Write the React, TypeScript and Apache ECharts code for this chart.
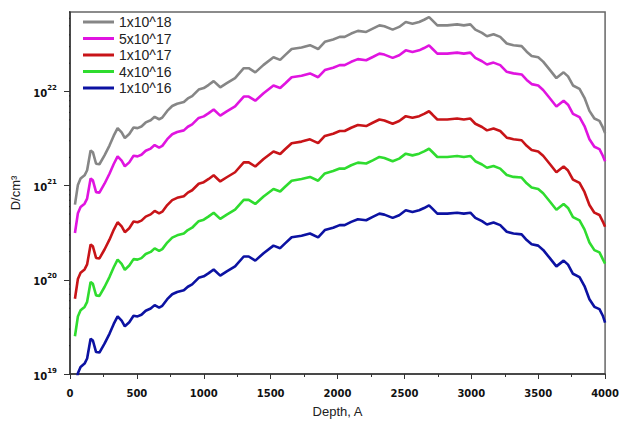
import React, { useEffect, useRef } from "react";
import * as echarts from "echarts";

// Depth positions (Angstrom) shared by all curves
const DEPTH = [37, 59, 79, 109, 128, 154, 171, 195, 220, 258, 295, 327, 356, 386, 410, 443, 475, 505, 534, 566, 603, 633, 666, 690, 727, 764, 801, 851, 881, 913, 962, 1000, 1037, 1074, 1123, 1172, 1234, 1299, 1336, 1385, 1447, 1521, 1571, 1608, 1657, 1731, 1794, 1855, 1905, 1967, 2016, 2053, 2102, 2152, 2214, 2263, 2313, 2350, 2412, 2461, 2510, 2560, 2610, 2647, 2684, 2709, 2746, 2820, 2894, 2944, 2993, 3030, 3080, 3117, 3166, 3216, 3265, 3315, 3376, 3414, 3451, 3500, 3537, 3587, 3636, 3690, 3723, 3760, 3809, 3846, 3883, 3920, 3958, 3983, 4000];

// D/cm^3 for dose 1x10^18, in units of 1e21
const DOSE_1E18 = [0.63, 1.02, 1.19, 1.29, 1.46, 2.37, 2.27, 1.71, 1.69, 2.10, 2.67, 3.40, 4.09, 3.69, 3.21, 3.54, 4.16, 4.09, 4.26, 4.70, 4.96, 5.39, 5.08, 5.30, 6.23, 7.03, 7.43, 7.74, 8.45, 8.95, 10.5, 10.9, 11.8, 12.9, 11.1, 12.3, 13.9, 17.7, 17.7, 16.0, 19.2, 23.1, 21.7, 24.4, 28.3, 29.4, 31.1, 28.3, 33.8, 35.7, 38.1, 38.1, 41.3, 44.1, 43.0, 46.6, 50.5, 49.3, 45.5, 48.6, 54.8, 52.6, 54.8, 57.9, 61.8, 57.0, 50.5, 50.5, 51.7, 50.5, 51.7, 45.5, 42.0, 38.7, 40.6, 38.1, 32.4, 31.1, 30.4, 26.5, 23.9, 23.1, 20.8, 17.0, 13.9, 16.0, 14.5, 11.6, 10.7, 8.59, 6.23, 5.17, 4.89, 4.16, 3.62];

// dose 5x10^17, in units of 1e20
const DOSE_5E17 = [3.15, 5.1, 5.95, 6.45, 7.3, 11.9, 11.4, 8.55, 8.45, 10.5, 13.4, 17.0, 20.5, 18.5, 16.1, 17.7, 20.8, 20.5, 21.3, 23.5, 24.8, 27.0, 25.4, 26.5, 31.2, 35.2, 37.2, 38.7, 42.3, 44.8, 52.5, 54.5, 59.0, 64.5, 55.5, 61.5, 69.5, 88.5, 88.5, 80.0, 96.0, 116, 109, 122, 142, 147, 156, 142, 169, 179, 191, 191, 207, 221, 215, 233, 253, 247, 228, 243, 274, 263, 274, 290, 309, 285, 253, 253, 259, 253, 259, 228, 210, 194, 203, 191, 162, 156, 152, 133, 120, 116, 104, 85.0, 69.5, 80.0, 72.5, 58.0, 53.5, 43.0, 31.2, 25.9, 24.5, 20.8, 18.2];

// dose 1x10^17, in units of 1e20
const DOSE_1E17 = [0.63, 1.02, 1.19, 1.29, 1.46, 2.37, 2.27, 1.71, 1.69, 2.10, 2.67, 3.40, 4.09, 3.69, 3.21, 3.54, 4.16, 4.09, 4.26, 4.70, 4.96, 5.39, 5.08, 5.30, 6.23, 7.03, 7.43, 7.74, 8.45, 8.95, 10.5, 10.9, 11.8, 12.9, 11.1, 12.3, 13.9, 17.7, 17.7, 16.0, 19.2, 23.1, 21.7, 24.4, 28.3, 29.4, 31.1, 28.3, 33.8, 35.7, 38.1, 38.1, 41.3, 44.1, 43.0, 46.6, 50.5, 49.3, 45.5, 48.6, 54.8, 52.6, 54.8, 57.9, 61.8, 57.0, 50.5, 50.5, 51.7, 50.5, 51.7, 45.5, 42.0, 38.7, 40.6, 38.1, 32.4, 31.1, 30.4, 26.5, 23.9, 23.1, 20.8, 17.0, 13.9, 16.0, 14.5, 11.6, 10.7, 8.59, 6.23, 5.17, 4.89, 4.16, 3.66];

// dose 4x10^16, in units of 1e19
const DOSE_4E16 = [2.52, 4.08, 4.76, 5.16, 5.84, 9.48, 9.08, 6.84, 6.76, 8.40, 10.7, 13.6, 16.4, 14.8, 12.8, 14.2, 16.6, 16.4, 17.0, 18.8, 19.8, 21.6, 20.3, 21.2, 24.9, 28.1, 29.7, 31.0, 33.8, 35.8, 42.0, 43.6, 47.2, 51.6, 44.4, 49.2, 55.6, 70.8, 70.8, 64.0, 76.8, 92.4, 86.8, 97.6, 113, 118, 124, 113, 135, 143, 152, 152, 165, 176, 172, 186, 202, 197, 182, 194, 219, 210, 219, 232, 247, 228, 202, 202, 207, 202, 207, 182, 168, 155, 162, 152, 130, 124, 122, 106, 95.6, 92.4, 83.2, 68.0, 55.6, 64.0, 58.0, 46.4, 42.8, 34.4, 24.9, 20.7, 19.6, 16.6, 14.9];

// dose 1x10^16, in units of 1e19
const DOSE_1E16 = [0.63, 1.02, 1.19, 1.29, 1.46, 2.37, 2.27, 1.71, 1.69, 2.10, 2.67, 3.40, 4.09, 3.69, 3.21, 3.54, 4.16, 4.09, 4.26, 4.70, 4.96, 5.39, 5.08, 5.30, 6.23, 7.03, 7.43, 7.74, 8.45, 8.95, 10.5, 10.9, 11.8, 12.9, 11.1, 12.3, 13.9, 17.7, 17.7, 16.0, 19.2, 23.1, 21.7, 24.4, 28.3, 29.4, 31.1, 28.3, 33.8, 35.7, 38.1, 38.1, 41.3, 44.1, 43.0, 46.6, 50.5, 49.3, 45.5, 48.6, 54.8, 52.6, 54.8, 57.9, 61.8, 57.0, 50.5, 50.5, 51.7, 50.5, 51.7, 45.5, 42.0, 38.7, 40.6, 38.1, 32.4, 31.1, 30.4, 26.5, 23.9, 23.1, 20.8, 17.0, 13.9, 16.0, 14.5, 11.6, 10.7, 8.59, 6.23, 5.17, 4.89, 4.16, 3.51];

const SERIES_NAMES = ["1x10^18", "5x10^17", "1x10^17", "4x10^16", "1x10^16"];
const SERIES_VALUES = [DOSE_1E18, DOSE_5E17, DOSE_1E17, DOSE_4E16, DOSE_1E16];
const SERIES_UNITS = [1e21, 1e20, 1e20, 1e19, 1e19];
const SERIES_COLORS = ["#868686", "#e014e0", "#c81418", "#2fdc2f", "#0c12a2"];

const X_TICKS_INTERVAL = 500;
const Y_MINOR_MANTISSAS = [2, 3, 4, 5, 6, 7, 8, 9];
const Y_DECADES = [1e19, 1e20, 1e21, 1e22];
const Y_MIN = 1e19;
const Y_MAX = 7e22;
// minor tick length expressed in depth units (drawn just left of the y axis)
const MINOR_TICK_DEPTH = 34;

export default function App() {
  const ref = useRef<HTMLDivElement>(null);

  useEffect(() => {
    if (!ref.current) return;
    const chart = echarts.init(ref.current, null, { renderer: "svg" });

    const minorValues: number[] = [];
    Y_DECADES.forEach((d) => {
      Y_MINOR_MANTISSAS.forEach((m) => {
        const v = m * d;
        if (v <= Y_MAX * 1.0001) minorValues.push(v);
      });
    });

    const lineSeries: any[] = SERIES_NAMES.map((name, i) => ({
      name,
      type: "line",
      data: DEPTH.map((d, j) => [d, SERIES_VALUES[i][j] * SERIES_UNITS[i]]),
      showSymbol: false,
      symbol: "none",
      lineStyle: { width: 2.6, color: SERIES_COLORS[i] },
      itemStyle: { color: SERIES_COLORS[i] },
      clip: true,
      z: 3,
    }));

    // log minor ticks as tiny unclipped line series through the chart's own scales
    const tickSeries: any[] = minorValues.map((v, k) => ({
      name: "_minor" + k,
      type: "line",
      data: [
        [-MINOR_TICK_DEPTH, v],
        [0, v],
      ],
      symbol: "none",
      showSymbol: false,
      clip: false,
      silent: true,
      z: 6,
      lineStyle: { width: 1, color: "#222" },
      itemStyle: { color: "#222" },
      tooltip: { show: false },
    }));

    const option: any = {
      animation: false,
      grid: {
        left: 70,
        right: 13,
        top: 12,
        bottom: 44,
        show: true,
        borderColor: "#666",
        borderWidth: 1.5,
        backgroundColor: "transparent",
      },
      legend: {
        data: SERIES_NAMES,
        orient: "vertical",
        left: 78,
        top: 10,
        icon: "rect",
        itemWidth: 31,
        itemHeight: 3,
        itemGap: 2.5,
        textStyle: {
          fontFamily: "Liberation Sans",
          fontSize: 14,
          color: "#222",
        },
      },
      xAxis: {
        type: "value",
        min: 0,
        max: 4000,
        interval: X_TICKS_INTERVAL,
        name: "Depth, A",
        nameLocation: "middle",
        nameGap: 31,
        nameTextStyle: {
          fontFamily: "Liberation Sans",
          fontSize: 13,
          color: "#222",
        },
        axisLine: { lineStyle: { color: "#333", width: 1.5 } },
        axisTick: { length: 5, lineStyle: { color: "#333", width: 1 } },
        minorTick: { show: true, splitNumber: 2, length: 3, lineStyle: { color: "#333", width: 1 } },
        splitLine: { show: false },
        axisLabel: {
          margin: 14,
          formatter: (v: number) => String(v),
          fontFamily: "DejaVu Sans",
          fontWeight: "bold",
          fontSize: 10,
          color: "#111",
        },
      },
      yAxis: {
        type: "log",
        logBase: 10,
        min: Y_MIN,
        max: Y_MAX,
        name: "D/cm³",
        nameLocation: "middle",
        nameGap: 37,
        nameRotate: 90,
        nameTextStyle: {
          fontFamily: "Liberation Sans",
          fontSize: 13,
          color: "#222",
        },
        axisLine: { show: true, lineStyle: { color: "#333", width: 1.5 } },
        axisTick: { length: 6, lineStyle: { color: "#333", width: 1 } },
        splitLine: { show: false },
        axisLabel: {
          margin: 13,
          showMaxLabel: false,
          formatter: (v: number) => {
            const e = Math.log10(v);
            const r = Math.round(e);
            if (Math.abs(e - r) > 1e-6) return "";
            return "{b|10}{s|" + r + "}";
          },
          rich: {
            b: {
              fontFamily: "DejaVu Sans",
              fontWeight: "bold",
              fontSize: 10,
              color: "#111",
              lineHeight: 14,
              verticalAlign: "bottom",
            },
            s: {
              fontFamily: "DejaVu Sans",
              fontWeight: "bold",
              fontSize: 7,
              color: "#111",
              lineHeight: 8,
              verticalAlign: "top",
            },
          },
        },
      },
      series: [...lineSeries, ...tickSeries],
    };

    chart.setOption(option);

    return () => {
      chart.dispose();
    };
  }, []);

  return (
    <div
      ref={ref}
      style={{ position: "fixed", left: 0, top: 0, width: 622, height: 423, background: "#fff" }}
    />
  );
}
